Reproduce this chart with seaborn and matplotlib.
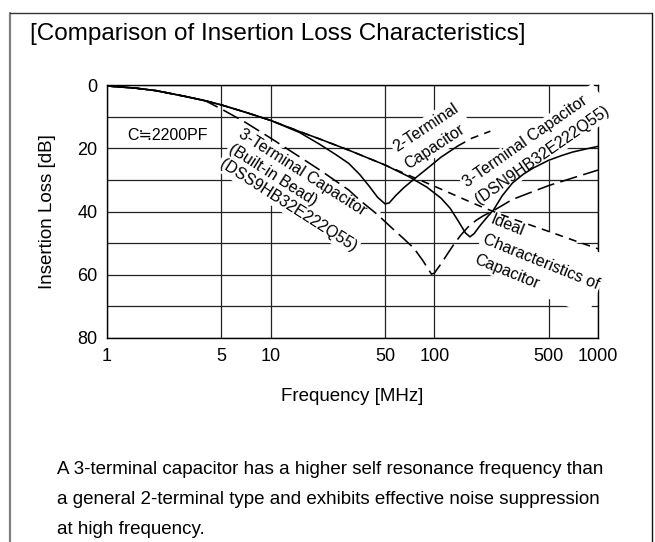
import matplotlib
matplotlib.use("Agg")
import matplotlib.pyplot as plt
import seaborn as sns
import pandas as pd
from matplotlib.lines import Line2D
from matplotlib.ticker import NullLocator

# ---------------- data ----------------
x_ticks = [1, 5, 10, 50, 100, 500, 1000]
x_tick_labels = ["1", "5", "10", "50", "100", "500", "1000"]
y_ticks = [0, 10, 20, 30, 40, 50, 60, 70, 80]
y_tick_labels = ["0", "", "20", "", "40", "", "60", "", "80"]

# Ideal characteristics of capacitor (short dashes)
freq_ideal = [1, 1.5, 2, 3, 4, 5, 7, 10, 15, 20, 30, 50, 70, 100, 150, 200, 300, 500, 700, 1000]
loss_ideal = [0.3, 1.0, 1.8, 3.6, 5.0, 6.3, 8.6, 11.2, 14.7, 17.1, 20.6, 25.3, 28.6, 32.0, 36.0, 38.8, 42.3, 46.3, 49.0, 51.8]

# 3-terminal capacitor DSN9HB32E222Q55 (solid)
freq_dsn = [1, 1.5, 2, 3, 4, 5, 7, 10, 15, 20, 30, 50, 70, 90, 110, 125, 140, 155, 165, 175, 190, 210,
            230, 260, 300, 350, 400, 500, 600, 700, 850, 1000]
loss_dsn = [0.3, 1.0, 1.8, 3.6, 5.0, 6.3, 8.6, 11.2, 14.7, 17.1, 20.6, 25.3, 29.0, 32.3, 35.8, 39.0, 43.0, 46.8,
            48.0, 47.0, 44.5, 41.8, 39.5, 35.0, 31.0, 28.2, 26.3, 23.8, 22.3, 21.2, 20.2, 19.4]

# 2-terminal capacitor (solid part, then dashed continuation)
freq_2t = [1, 1.5, 2, 3, 4, 5, 7, 10, 15, 20, 25, 30, 35, 40, 45, 50, 53, 58, 65, 75, 90, 110, 140]
loss_2t = [0.3, 1.0, 1.8, 3.6, 5.0, 6.3, 8.6, 11.2, 15.0, 18.8, 22.0, 24.8, 28.3, 32.0, 35.5, 37.6, 37.3,
           35.0, 32.5, 29.8, 26.5, 22.8, 19.2]
freq_2t_ext = [140, 170, 220]
loss_2t_ext = [19.2, 16.8, 14.6]

# 3-terminal capacitor with built-in bead DSS9HB32E222Q55 (long dashes)
freq_dss = [1, 1.5, 2, 3, 4, 5, 7, 10, 14, 20, 30, 35, 45, 55, 65, 75, 85, 96, 100, 110, 120, 130, 145,
            160, 180, 200, 225, 300, 400, 500, 700, 1000]
loss_dss = [0.3, 1.0, 1.8, 3.6, 5.0, 7.6, 11.8, 16.8, 21.7, 26.9, 33.2, 36.4, 41.0, 45.2, 48.6, 51.6, 55.5,
            59.8, 59.5, 56.5, 53.5, 50.8, 47.5, 45.0, 42.8, 41.3, 40.0, 36.2, 33.7, 31.8, 29.4, 26.9]

# ---------------- figure ----------------
sns.set_theme(style="white")
plt.rcParams["font.family"] = ["Liberation Sans", "DejaVu Sans"]

W, H = 655, 542
fig = plt.figure(figsize=(W / 100, H / 100), dpi=100)
fig.patch.set_facecolor("white")

x0, x1, y0, y1 = 107, 598, 85, 338
ax = fig.add_axes([x0 / W, 1 - y1 / H, (x1 - x0) / W, (y1 - y0) / H])
ax.set_facecolor("white")

lw = 1.15
sns.lineplot(x=freq_ideal, y=loss_ideal, ax=ax, color="black", lw=lw, ls=(0, (5, 4)),
             estimator=None, sort=False, zorder=4)
sns.lineplot(x=freq_dss, y=loss_dss, ax=ax, color="black", lw=lw, ls=(0, (11, 4)),
             estimator=None, sort=False, zorder=4)
sns.lineplot(x=freq_2t, y=loss_2t, ax=ax, color="black", lw=lw, ls="-",
             estimator=None, sort=False, zorder=4)
sns.lineplot(x=freq_2t_ext, y=loss_2t_ext, ax=ax, color="black", lw=lw, ls=(0, (5, 4)),
             estimator=None, sort=False, zorder=4)
sns.lineplot(x=freq_dsn, y=loss_dsn, ax=ax, color="black", lw=lw, ls="-",
             estimator=None, sort=False, zorder=4)

ax.set_xscale("log")
ax.set_xlim(1, 1000)
ax.set_ylim(80, 0)
ax.set_xticks(x_ticks)
ax.set_xticklabels(x_tick_labels)
ax.xaxis.set_minor_locator(NullLocator())
ax.set_yticks(y_ticks)
ax.set_yticklabels(y_tick_labels)
ax.tick_params(length=0, pad=7, labelsize=13, colors="black")
ax.grid(True, color="#222222", lw=0.9)
ax.set_axisbelow(True)
for s in ax.spines.values():
    s.set_color("black")
    s.set_linewidth(1.0)
    s.set_visible(True)

ax.set_xlabel("Frequency [MHz]", fontsize=13.5, color="black")
ax.xaxis.set_label_coords(0.5, -(388 - y1) / (y1 - y0))
ax.set_ylabel("Insertion Loss [dB]", fontsize=13.5, color="black")
ax.yaxis.set_label_coords(-(x0 - 56) / (x1 - x0), 0.5)

box = dict(facecolor="white", edgecolor="none", pad=1.5)
# anchors are at the start of the LAST line's baseline (va="baseline" for multi-line text)
lab = dict(fontsize=11.5, color="black", rotation_mode="anchor", ha="left", va="baseline",
           bbox=box, zorder=3, multialignment="left")

ax.text(1.33, 16.1, "C≒2200PF", fontsize=11.5, color="black", ha="left", va="center", zorder=3,
        bbox=box)
ax.text(4.9, 25.0, "3-Terminal Capacitor\n(Built-in Bead)\n(DSS9HB32E222Q55)", rotation=-32.5,
        linespacing=1.2, **lab)
ax.text(66.6, 25.0, "2-Terminal\nCapacitor", rotation=33.5, linespacing=1.5, **lab)
ax.text(180.6, 36.4, "3-Terminal Capacitor\n(DSN9HB32E222Q55)", rotation=35, linespacing=1.42, **lab)
ax.text(179.5, 54.4, "Ideal\nCharacteristics of\nCapacitor", rotation=-22, linespacing=1.54, **lab)

# outer frame
fl, fr, ft = 10 / W, 652 / W, 1 - 13 / H
fig.add_artist(Line2D([fl, fl], [0, ft], transform=fig.transFigure, color="#808080", lw=1.6))
fig.add_artist(Line2D([fl, fr], [ft, ft], transform=fig.transFigure, color="#333333", lw=1.0))
fig.add_artist(Line2D([fr, fr], [0, ft], transform=fig.transFigure, color="#111111", lw=1.0))

fig.text(30 / W, 1 - 40 / H, "[Comparison of Insertion Loss Characteristics]", fontsize=17.5,
         color="black", ha="left", va="baseline")

body = ["A 3-terminal capacitor has a higher self resonance frequency than",
        "a general 2-terminal type and exhibits effective noise suppression",
        "at high frequency."]
for i, line in enumerate(body):
    fig.text(57 / W, 1 - (470 + 30 * i) / H, line, fontsize=13.5, color="black",
             ha="left", va="center")

fig.savefig("out.png", dpi=100, facecolor="white")
